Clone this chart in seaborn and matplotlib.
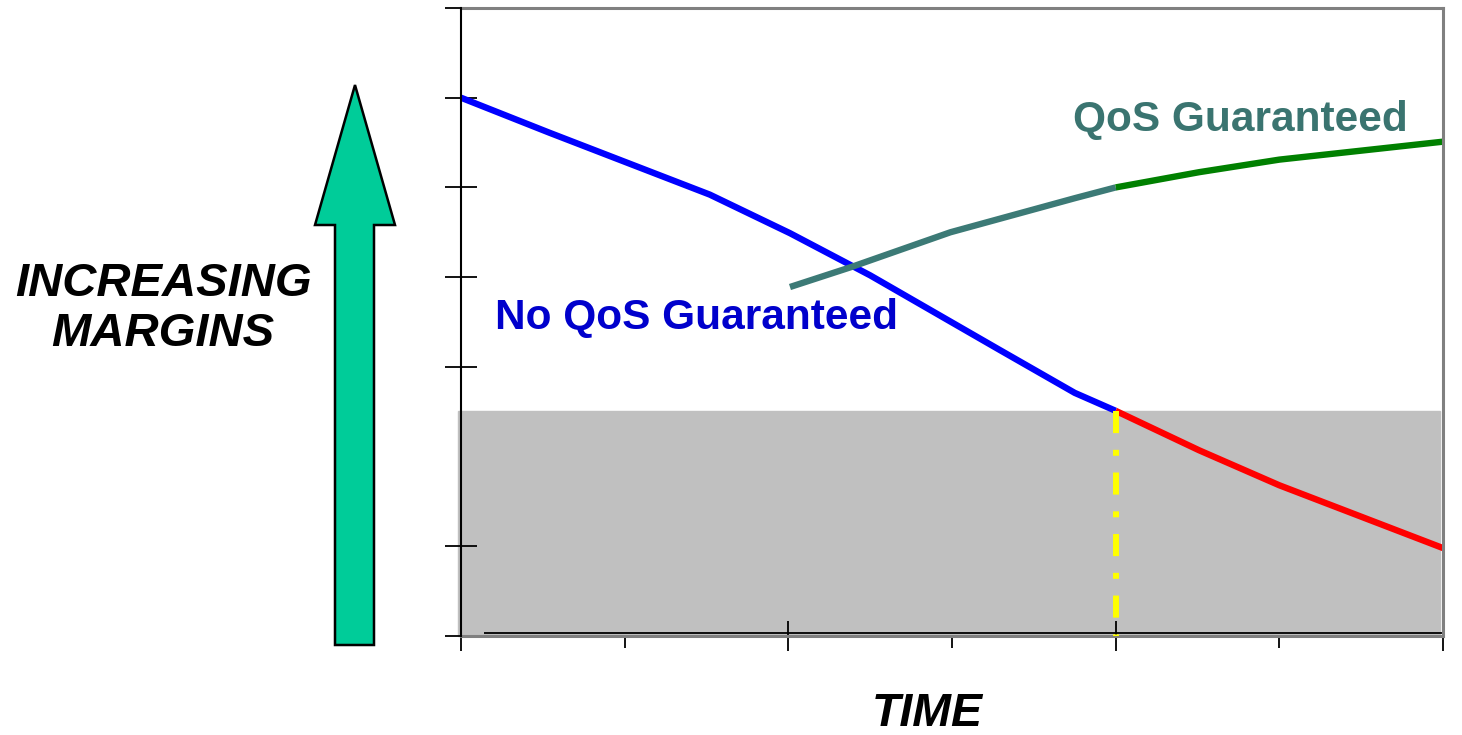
import numpy as np
import pandas as pd
import seaborn as sns
import matplotlib.pyplot as plt
from matplotlib.patches import Polygon

# data (time in tick units, margin in tick units)
no_qos_time = [0.0, 0.54, 1.52, 2.01, 2.50, 3.29, 3.75, 4.0]
no_qos_margin = [6.0, 5.61, 4.92, 4.49, 4.02, 3.19, 2.71, 2.51]
below_time = [4.0, 4.51, 5.0, 6.0]
below_margin = [2.51, 2.07, 1.68, 0.98]
qos_time = [2.01, 2.38, 2.99, 3.75, 4.0]
qos_margin = [3.89, 4.11, 4.50, 4.88, 5.0]
qos_later_time = [4.0, 4.51, 5.0, 6.0]
qos_later_margin = [5.0, 5.17, 5.31, 5.51]
threshold = 2.51
cross_time = 4.0

segments = ["no_qos", "below", "qos", "qos_later"]
colors = {"no_qos": "#0000FF", "below": "#FF0000",
          "qos": "#3C7A76", "qos_later": "#008000"}

frames = []
for name, t, m in zip(segments,
                      [no_qos_time, below_time, qos_time, qos_later_time],
                      [no_qos_margin, below_margin, qos_margin, qos_later_margin]):
    frames.append(pd.DataFrame({"time": t, "margin": m, "segment": name}))
df = pd.concat(frames, ignore_index=True)

sns.set_style("white")
plt.rcParams['font.family'] = ['Liberation Sans', 'DejaVu Sans']
plt.rcParams['text.color'] = 'black'

fig = plt.figure(figsize=(14.62, 7.35), dpi=100)
ax = fig.add_axes([461 / 1462, 1 - 636 / 735, 982 / 1462, 628 / 735])

# shaded zone below the threshold
ax.axhspan(0, threshold, xmin=-0.003, xmax=0.997, color="#C0C0C0", zorder=0, clip_on=False)
ax.axhline(0.035, xmin=0.023, xmax=1, color="black", lw=1.3, zorder=1)

sns.lineplot(data=df, x="time", y="margin", hue="segment", palette=colors,
             sort=False, estimator=None, linewidth=4.6, legend=False, ax=ax)
for line in ax.lines:
    line.set_solid_capstyle("butt")

ax.plot([cross_time, cross_time], [threshold, 0], color="#FFFF00", lw=4.3,
        dashes=(3.7, 2.8, 1, 2.8), dash_capstyle="butt", zorder=3)

ax.set_xlim(0, 6)
ax.set_ylim(0, 7)
ax.set_xlabel("")
ax.set_ylabel("")

ax.set_xticks([0, 2, 4, 6])
ax.set_xticks([1, 3, 5], minor=True)
ax.set_yticks([0, 1, 3, 4, 5, 6, 7])
ax.yaxis.set_ticks_position("left")
ax.xaxis.set_ticks_position("bottom")
ax.tick_params(axis="x", which="major", direction="inout", length=22, width=1.3,
               color="black", labelbottom=False)
ax.tick_params(axis="x", which="minor", direction="out", length=8.6, width=1.3,
               color="black", labelbottom=False)
ax.tick_params(axis="y", direction="inout", length=23, width=1.3,
               color="black", labelleft=False)

for side in ["top", "right", "bottom"]:
    ax.spines[side].set_color("#808080")
    ax.spines[side].set_linewidth(2.2)
ax.spines["left"].set_color("black")
ax.spines["left"].set_linewidth(1.5)
ax.spines["left"].set_zorder(4)

ax.text(3.74, 5.75, "QoS Guaranteed", color="#3A7470", fontsize=30.5,
        fontweight="bold", ha="left", va="center")
ax.text(0.21, 3.55, "No QoS Guaranteed", color="#0000CC", fontsize=30.5,
        fontweight="bold", ha="left", va="center")

fig.text(927 / 1462, 1 - 714 / 735, "TIME", fontsize=33.5, fontweight="bold",
         fontstyle="italic", ha="center", va="center", color="black")
fig.text(163 / 1462, 1 - 309 / 735, "INCREASING\nMARGINS", fontsize=34,
         fontweight="bold", fontstyle="italic", ha="center", va="center",
         linespacing=1.2, color="black")

# big arrow on the left
arrow_px = [(355, 85), (395, 225), (374, 225), (374, 645),
            (335, 645), (335, 225), (315, 225)]
arrow = Polygon([(x / 1462, 1 - y / 735) for x, y in arrow_px], closed=True,
                facecolor="#00CC99", edgecolor="black", lw=1.8,
                transform=fig.transFigure)
fig.patches.append(arrow)

fig.savefig("out.png", dpi=100)
